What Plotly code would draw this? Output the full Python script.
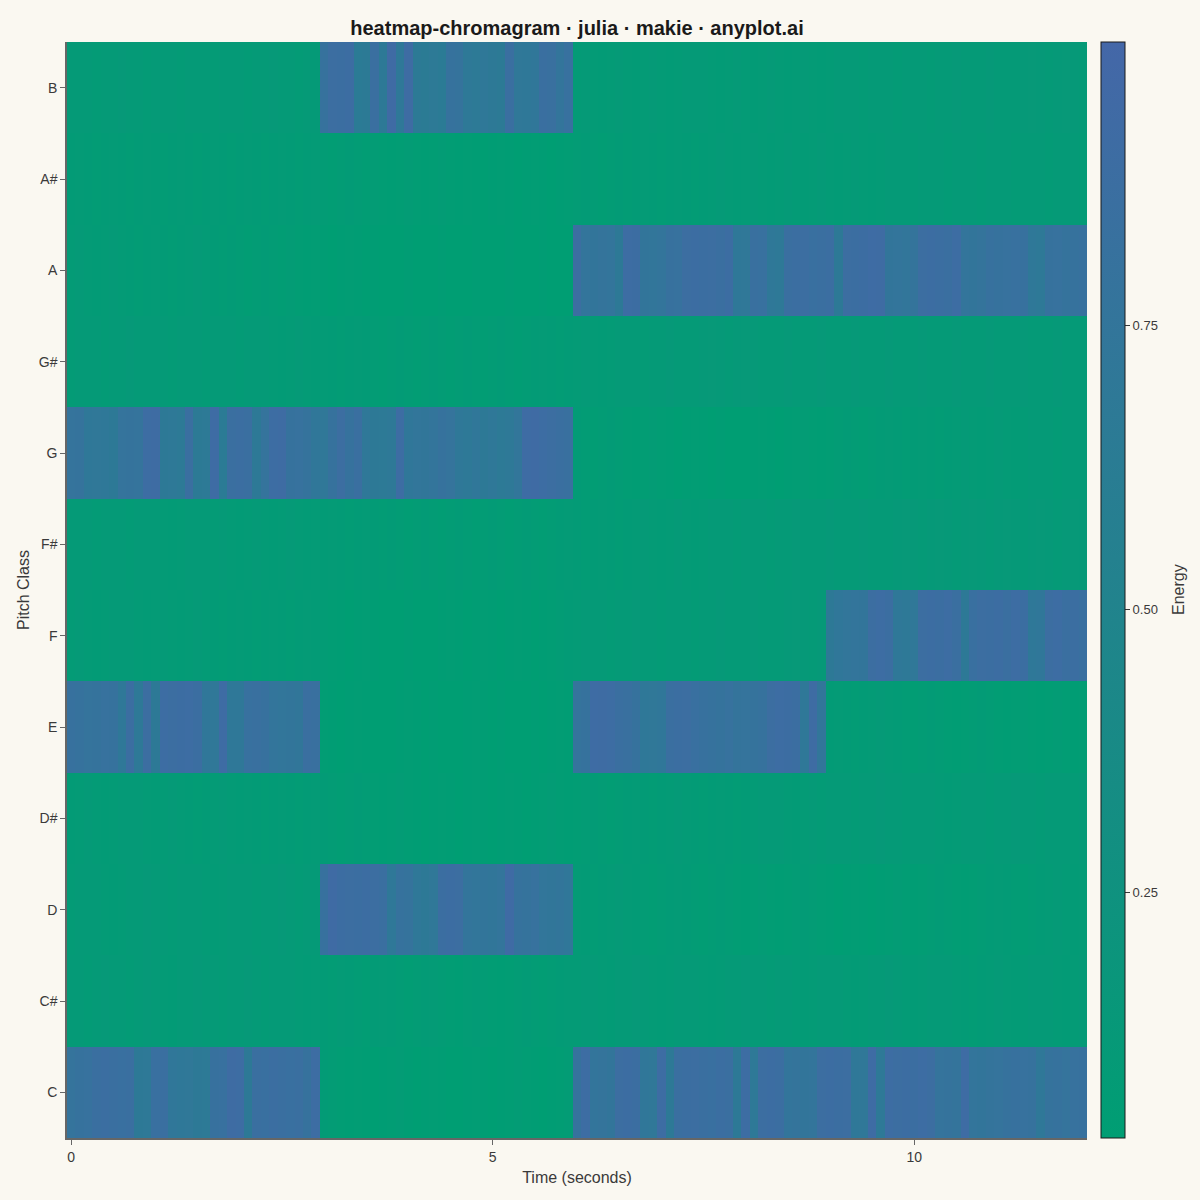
import plotly.graph_objects as go

pitch_classes = ["C", "C#", "D", "D#", "E", "F", "F#", "G", "G#", "A", "A#", "B"]
times = [round(i * 0.1, 1) for i in range(121)]

# Energy per frame (x100)
C = [78,80,81,86,87,86,85,86,68,69, 85,86,72,70,71,68,67,82,83,91, 90,68,86,85,87,86,85,86,80,90,
     8,7,6,5,6,5,4,5,6,7, 5,4,5,6,5,4,4,5,6,5, 4,5,6,7,6,5,4,5,6,7,
     80,90,76,77,75,88,89,87,72,71, 90,68,86,87,88,86,85,87,86,68, 90,69,88,89,87,76,77,75,76,88,
     89,87,88,70,71,92,69,90,88,89, 87,90,88,78,79,77,92,76,75,77, 78,80,82,81,80,70,79,80,78,81, 82]
Cs = [10,11,9,10,12,11,10,9,11,12, 10,9,8,10,11,12,11,10,9,10, 11,12,10,9,10,11,10,9,8,9,
      8,7,9,8,7,6,8,9,8,7, 6,7,8,9,7,6,5,7,8,7, 6,5,6,7,8,7,6,7,8,9,
      9,10,11,9,8,10,11,12,10,9, 8,9,10,11,10,9,8,9,10,11, 12,11,10,9,10,11,9,8,9,10,
      11,10,9,8,9,10,11,12,10,9, 8,9,10,11,10,9,8,7,8,9, 10,9,8,9,10,11,10,9,8,9, 10]
D = [9,10,11,10,9,8,9,10,11,12, 11,10,9,10,11,10,9,8,9,10, 11,10,9,10,11,12,10,9,10,11,
     82,93,89,88,87,89,88,86,70,80, 79,70,68,71,87,89,88,76,74,75, 73,76,93,80,79,81,74,73,75,72,
     9,8,7,8,9,10,9,8,7,6, 7,8,9,8,7,6,7,8,7,6, 5,6,7,6,5,6,7,8,7,6,
     5,4,5,6,5,4,5,6,7,6, 5,6,7,8,7,6,5,6,7,8, 9,8,7,6,7,8,9,10,9,8, 9]
Ds = [8,9,10,9,8,9,10,11,10,9, 8,9,10,9,8,7,8,9,10,9, 8,9,8,7,8,9,8,7,8,9,
      8,7,6,7,8,7,6,5,6,7, 6,5,4,5,6,5,4,5,6,5, 4,5,6,5,4,5,6,7,6,5,
      6,7,8,7,6,7,8,9,8,7, 8,9,10,9,8,7,8,9,8,7, 8,9,10,11,10,9,8,9,10,9,
      10,11,10,9,10,11,12,11,10,9, 10,11,10,9,8,9,10,11,10,9, 10,11,12,11,10,9,10,11,10,9, 10]
E = [82,80,78,79,81,80,70,87,69,88, 68,90,88,89,90,87,72,71,92,70, 70,83,84,82,76,74,75,73,86,84,
     6,5,4,5,6,5,4,3,4,5, 6,5,4,5,4,3,4,5,6,5, 4,5,4,3,4,5,4,5,6,5,
     78,80,92,91,90,86,84,80,70,71, 72,86,87,88,85,82,80,79,81,77, 78,79,80,88,90,89,87,70,91,74,
     8,9,8,7,8,9,10,9,8,7, 6,7,8,7,6,5,6,7,8,7, 6,5,6,7,6,5,6,7,6,5, 6]
F = [9,10,9,8,9,10,11,10,9,8, 9,10,9,8,9,10,9,8,7,8, 9,8,7,8,9,8,7,8,9,8,
     7,6,5,4,5,6,5,4,3,4, 5,4,3,4,5,6,5,4,5,6, 5,4,5,6,5,4,5,6,7,8,
     9,10,11,10,9,10,11,12,11,10, 9,10,11,10,9,10,11,12,11,10, 11,12,11,10,11,12,13,12,11,12,
     68,72,74,76,75,88,90,87,70,69, 71,88,89,87,90,86,68,85,88,87, 89,86,90,87,70,72,88,90,86,87, 85]
Fs = [10,11,10,9,10,11,10,9,10,11, 10,9,8,9,10,11,10,9,10,9, 8,9,10,9,8,9,10,9,8,9,
      8,9,8,7,8,9,8,7,8,7, 6,7,8,7,6,7,8,7,6,7, 8,7,6,7,8,7,6,7,8,9,
      8,7,8,9,8,7,8,9,10,9, 8,9,10,9,8,9,10,11,10,9, 10,11,10,9,10,11,12,11,10,11,
      12,11,10,11,12,11,10,11,12,13, 12,11,12,13,12,11,12,13,12,11, 12,13,12,11,12,13,12,11,12,13, 12]
G = [78,79,70,71,70,68,78,79,78,90, 91,68,69,67,86,66,67,92,65,86, 87,86,68,78,90,91,80,81,79,72,
     71,80,88,80,86,70,68,67,69,90, 72,74,73,76,80,78,70,69,72,68, 70,67,69,74,92,93,90,88,86,84,
     8,7,6,7,8,7,6,5,6,7, 6,5,4,5,6,5,4,5,4,3, 4,5,6,5,4,5,6,7,6,5,
     6,7,8,7,6,7,8,9,8,7, 8,9,8,7,8,9,10,9,8,9, 10,9,8,9,10,11,10,9,10,11, 10]
Gs = [9,10,11,10,9,10,11,12,11,10, 11,10,9,10,11,10,9,10,11,10, 9,10,11,10,9,8,9,10,9,8,
      9,8,7,8,9,8,7,6,7,8, 7,6,7,8,7,6,7,8,7,6, 7,8,7,6,7,8,9,8,7,8,
      9,10,9,8,9,10,11,10,9,10, 11,12,11,10,11,12,13,12,11,12, 13,12,11,10,11,12,11,10,11,12,
      11,10,11,12,11,10,11,12,11,10, 11,12,11,10,11,12,11,10,11,12, 11,10,11,12,11,10,11,12,11,10, 11]
A = [9,10,9,8,9,10,9,8,7,8, 9,8,7,8,9,10,9,8,7,8, 7,6,7,8,7,6,7,6,5,6,
     5,4,5,6,5,4,5,4,3,4, 5,4,3,4,5,4,3,4,5,4, 3,4,5,4,3,4,5,4,3,4,
     88,76,75,77,76,68,90,89,75,74, 76,82,81,88,89,87,88,86,89,70, 71,84,83,70,69,86,87,88,85,86,
     87,68,88,87,89,92,91,75,76,74, 77,88,89,87,86,90,76,75,77,82, 80,81,83,82,70,69,80,81,79,80, 82]
As = [8,9,8,7,8,9,8,7,8,9, 8,7,8,9,8,7,8,9,8,7, 8,9,8,7,8,9,8,7,8,9,
      7,6,7,8,7,6,7,6,5,6, 7,6,5,6,7,6,5,6,5,4, 5,6,5,4,5,6,5,4,5,6,
      7,8,7,6,7,8,7,8,9,8, 7,8,9,8,7,8,9,10,9,8, 9,10,9,8,9,10,9,8,9,10,
      9,8,9,10,9,8,9,10,11,10, 9,10,11,10,9,10,11,10,9,10, 11,10,9,10,11,10,9,10,11,10, 9]
B = [10,11,10,9,10,11,12,11,10,9, 10,11,10,9,10,11,10,9,10,11, 10,9,10,11,12,11,10,9,10,11,
     80,88,87,89,65,66,86,68,93,70, 91,66,64,67,65,80,79,69,67,70, 68,66,86,71,70,72,86,84,76,83,
     9,10,9,8,9,10,9,8,9,10, 9,8,9,10,11,10,9,8,9,10, 9,8,9,10,9,8,9,10,9,8,
     9,10,11,10,9,10,11,10,9,10, 11,10,9,10,11,12,11,10,11,12, 11,10,11,12,13,12,11,12,13,12, 11]

rows = [C, Cs, D, Ds, E, F, Fs, G, Gs, A, As, B]
z = [[v / 100.0 for v in r[:len(times)]] for r in rows]

FONT = "Liberation Sans, Arial, sans-serif"
TXT = "#3a3a3a"

fig = go.Figure(
    go.Heatmap(
        x=times,
        y=list(range(12)),
        z=z,
        zmin=0.034,
        zmax=1.0,
        colorscale=[[0.0, "#009E73"], [1.0, "#4467A8"]],
        colorbar=dict(
            tickvals=[0.25, 0.5, 0.75],
            ticktext=["0.25", "0.50", "0.75"],
            ticks="outside",
            ticklen=5,
            tickcolor=TXT,
            tickfont=dict(family=FONT, size=13, color=TXT),
            outlinecolor="#1a1a1a",
            outlinewidth=1,
            thickness=24,
            len=1.0,
            lenmode="fraction",
            y=0.5,
            yanchor="middle",
            ypad=0,
            x=1.014,
            xanchor="left",
            xpad=0,
        ),
    )
)

fig.update_layout(
    width=1200,
    height=1200,
    margin=dict(l=67, r=113, t=42, b=62),
    paper_bgcolor="#FAF8F1",
    plot_bgcolor="#FAF8F1",
    font=dict(family=FONT, color=TXT),
    title=dict(
        text="<b>heatmap-chromagram · julia · makie · anyplot.ai</b>",
        x=0.5,
        xref="paper",
        xanchor="center",
        y=1 - 28 / 1200,
        yanchor="middle",
        font=dict(family=FONT, size=20, color="#1a1a1a"),
    ),
    xaxis=dict(
        range=[-0.05, 12.05],
        tickvals=[0, 5, 10],
        ticktext=["0", "5", "10"],
        ticks="outside",
        ticklen=5,
        tickcolor="#666666",
        tickfont=dict(family=FONT, size=14, color=TXT),
        showline=True,
        linecolor="#666666",
        linewidth=1.5,
        showgrid=False,
        zeroline=False,
        mirror=False,
        title=dict(text="Time (seconds)", font=dict(family=FONT, size=16, color=TXT), standoff=8),
    ),
    yaxis=dict(
        range=[-0.5, 11.5],
        tickvals=list(range(12)),
        ticktext=pitch_classes,
        ticks="outside",
        ticklen=5,
        tickcolor="#666666",
        tickfont=dict(family=FONT, size=14, color=TXT),
        showline=True,
        linecolor="#666666",
        linewidth=1.5,
        showgrid=False,
        zeroline=False,
        title=dict(text="Pitch Class", font=dict(family=FONT, size=16, color=TXT), standoff=5),
    ),
    annotations=[
        dict(
            text="Energy",
            textangle=-90,
            xref="paper",
            yref="paper",
            x=(1178 - 67) / 1020,
            y=0.5,
            xanchor="center",
            yanchor="middle",
            showarrow=False,
            font=dict(family=FONT, size=16, color=TXT),
        )
    ],
)

fig.write_html(
    "out.html",
    config={"displayModeBar": False},
    post_script="document.body.style.margin='0';document.body.style.background='#FAF8F1';",
)
